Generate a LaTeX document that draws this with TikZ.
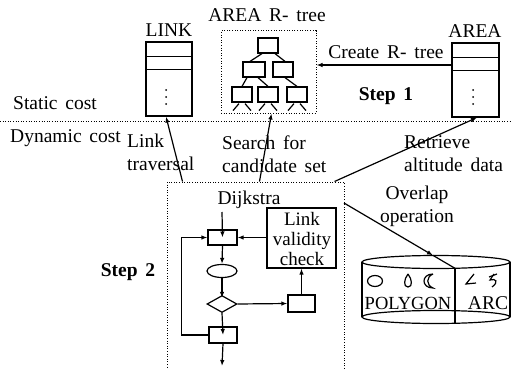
\documentclass[tikz,border=0pt]{standalone}
\usepackage{fontspec}
\setmainfont{Liberation Serif}[WordSpace=1.6]
\usetikzlibrary{shapes.geometric,arrows.meta,calc}
\begin{document}
\begin{tikzpicture}[x=1pt,y=-1pt,
  every node/.style={font=\fontsize{19.5}{23}\selectfont, inner sep=0pt},
  ln/.style={line width=1.2pt},
  dots/.style={line width=1pt, dash pattern=on 1pt off 1.6pt},
  arr/.style={ln, -{Latex[length=6pt,width=4.5pt]}},
  rect/.style={draw, ln, rectangle},
  tnode/.style={rect, minimum width=20pt, minimum height=15pt},
  stepname/.style={font=\fontsize{19.5}{23}\selectfont\bfseries},
  pt/.style={fill, circle, minimum size=2pt}
]
\useasboundingbox (0,0) rectangle (511,369);

% ---- static part: tables and spatial index ----
\node (linklbl) at (169,30) {LINK};
\node[rect, minimum width=46pt, minimum height=74pt] (linkbox) at (169,79) {};
\draw[ln] ($(linkbox.north west)+(0,15)$) -- ($(linkbox.north east)+(0,15)$);
\draw[ln] ($(linkbox.north west)+(0,28)$) -- ($(linkbox.north east)+(0,28)$);
\node[pt] (ld1) at (166,90) {};
\node[pt] (ld2) at (166,97) {};
\node[pt] (ld3) at (166,104) {};

\node (arealbl) at (475,31) {AREA};
\node[rect, minimum width=47pt, minimum height=74pt] (areabox) at (475.5,80) {};
\draw[ln] ($(areabox.north west)+(0,15)$) -- ($(areabox.north east)+(0,15)$);
\draw[ln] ($(areabox.north west)+(0,28)$) -- ($(areabox.north east)+(0,28)$);
\node[pt] (ad1) at (473,90) {};
\node[pt] (ad2) at (473,97) {};
\node[pt] (ad3) at (473,104) {};

\node (rtlbl) at (267,15) {AREA R- tree};
\node[draw, dots, minimum width=95pt, minimum height=82pt] (rtbox) at (268.5,72) {};
\node[tnode] (t)   at (268,45.5) {};
\node[tnode, minimum width=22pt] (l2a) at (254,69.5) {};
\node[tnode] (l2b) at (283,69.5) {};
\node[tnode] (l3a) at (242,94.5) {};
\node[tnode] (l3b) at (268,94.5) {};
\node[tnode] (l3c) at (297,94.5) {};
\draw[ln] ([xshift=-6pt]t.south) -- ([xshift=-4pt]l2a.north);
\draw[ln] ([xshift=7pt]t.south) -- ([xshift=2pt]l2b.north);
\draw[ln] ([xshift=-7pt]l2a.south) -- (l3a.north);
\draw[ln] ([xshift=4pt]l2a.south) -- (l3b.north);
\draw[ln] ([xshift=2pt]l2b.south) -- (l3c.north);
\foreach \n in {l3a,l3b,l3c}{
  \draw[ln] ($(\n.south)+(-3,1)$) -- ($(\n.south)+(-9,8)$);
  \draw[ln] ($(\n.south)+(3,1)$) -- ($(\n.south)+(9,8)$);
}

\coordinate (crow) at (0,65);
\draw[arr] (areabox.west |- crow) -- (rtbox.east |- crow);
\node (crlbl) at (386,52) {Create R- tree};
\node[stepname] (s1) at (386,96) {Step 1};

% ---- cost boundary ----
\node[anchor=west] (stc) at (13,103) {Static cost};
\coordinate (bl) at (0,121);
\coordinate (br) at (511,121);
\draw[dots] (bl) -- (br);
\node[anchor=west] (dyc) at (10,138) {Dynamic cost};

% ---- dynamic part: Dijkstra search ----
\node[draw, dots, minimum width=177pt, minimum height=192pt] (dij) at (255.5,278) {};
\node (dijlbl) at (249,200) {Dijkstra};

\draw[arr] ($(dij.north west)+(16,0)$) -- ($(linkbox.south)+(-3,0)$);
\draw[arr] ($(dij.north west)+(93,0)$) -- ($(rtbox.south)+(3,0)$);
\draw[arr] ($(dij.north east)+(-10,0)$) -- ($(areabox.south)+(1.5,0)$);
\node[align=left, anchor=west] (lt) at (127,152.5) {Link\\traversal};
\node[align=left, anchor=west] (sc) at (222,154) {Search for\\candidate set};
\node[align=left, anchor=west] (ra) at (404,154) {Retrieve\\altitude data};

\node[rect, minimum width=29pt, minimum height=15pt] (b1) at (222.5,237.5) {};
\node[draw, ln, ellipse, minimum width=30pt, minimum height=13pt] (el) at (222,271) {};
\node[draw, ln, diamond, minimum width=30pt, minimum height=17pt] (dm) at (222,304) {};
\node[rect, minimum width=28pt, minimum height=16pt] (b4) at (223,335) {};
\node[rect, minimum width=27pt, minimum height=17pt] (sb) at (301.5,303.5) {};
\node[rect, minimum width=69pt, minimum height=60pt] (lvc) at (301.5,238) {};
\node[align=center, font=\fontsize{19}{20}\selectfont] (lvct) at (302,239) {Link\\validity\\check};

\coordinate (dtop) at (222,212);
\coordinate (dend) at (222,366);
\draw[arr] (dtop) -- (b1.center);
\draw[arr] (b1.south) -- (el.north);
\draw[arr] (el.south) -- ($(dm.north)+(0,3)$);
\draw[arr] (dm.south) -- (b4.center);
\draw[arr] (b4.south) -- (dend);
\draw[arr] (dm.east) -- (sb.west);
\draw[arr] (sb.north) -- (sb.north |- lvc.south);
\draw[arr] (lvc.west |- b1) -- (b1.east);
\draw[arr] (b4.west) -- ++(-27,0) |- (b1.west);

\node[stepname] (s2) at (128,272) {Step 2};

% ---- map database ----
\node[align=center] (ovl) at (417,206) {Overlap\\operation};
\draw[ln] (362,262) -- (362,317);
\draw[ln] (510,262) -- (510,317);
\draw[ln] (436,262) ellipse [x radius=74, y radius=6.5];
\draw[ln] (436,317) ellipse [x radius=74, y radius=6.5];
\coordinate (dvt) at (455,268.3);
\coordinate (dvb) at (455,323.3);
\draw[ln] (dvt) -- (dvb);

\coordinate (ovs) at (344,203);
\coordinate (ovm) at (433,255.4);
\draw[arr] (ovs) -- (ovm);
\draw[ln] (ovm) -- (dvt);

% polygon and arc glyphs
\draw[ln] (375,281) ellipse [x radius=7.5, y radius=5.5];
\draw[ln] (408,274) .. controls (404,279) and (403,287) .. (408,287)
                    .. controls (413,287) and (412,279) .. (408,274);
\draw[ln] (433,274) .. controls (421,274) and (421,288) .. (433,288)
                    .. controls (426,285) and (426,277) .. (433,274);
\draw[ln] (474,274) -- (466,284) -- (476,283);
\draw[ln] (489,277) -- (497,274);
\draw[ln] (494,274) -- (490,280) .. controls (496,278) and (499,282) .. (492,287);

\node[font=\fontsize{18.5}{22}\selectfont] (poly) at (408,303) {POLYGON};
\node (arc) at (488,303) {ARC};
\end{tikzpicture}
\end{document}
